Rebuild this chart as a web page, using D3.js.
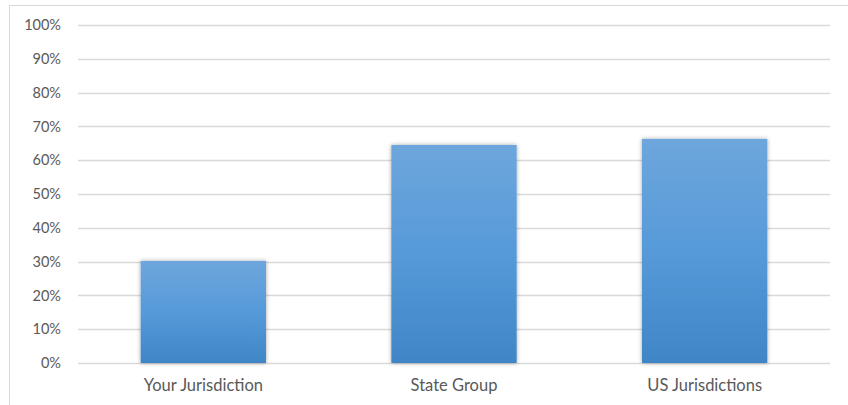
<!DOCTYPE html>
<html>
<head>
<meta charset="utf-8">
<script src="https://cdn.jsdelivr.net/npm/d3@7"></script>
<style>
  body { margin: 0; background: #fff; }
  text { font-family: Lato, "Open Sans", sans-serif; fill: #595959; }
</style>
</head>
<body>
<div id="chart"></div>
<script>
'use strict';

// data
var categories = ["Your Jurisdiction", "State Group", "US Jurisdictions"];
var values = [30.2, 64.5, 66.3];
var tickValues = [0, 10, 20, 30, 40, 50, 60, 70, 80, 90, 100];

var width = 848, height = 405;
var margin = {left: 78, right: 18, top: 25, bottom: 42};

var svg = d3.select("#chart").append("svg")
    .attr("width", width)
    .attr("height", height);

// gradient + shadow for bars
var defs = svg.append("defs");
var grad = defs.append("linearGradient")
    .attr("id", "barGrad")
    .attr("x1", 0).attr("y1", 0).attr("x2", 0).attr("y2", 1);
grad.append("stop").attr("offset", "0%").attr("stop-color", "#6ea6dc");
grad.append("stop").attr("offset", "50%").attr("stop-color", "#569ad9");
grad.append("stop").attr("offset", "100%").attr("stop-color", "#3f86c6");

var shadow = defs.append("filter").attr("id", "shadow")
    .attr("x", "-20%").attr("y", "-20%").attr("width", "140%").attr("height", "140%");
shadow.append("feDropShadow")
    .attr("dx", 0).attr("dy", 0).attr("stdDeviation", 2)
    .attr("flood-color", "#000").attr("flood-opacity", 0.35);

// outer frame (top + left only visible)
svg.append("path")
    .attr("d", "M9.5," + height + "V5.5H" + width)
    .attr("fill", "none")
    .attr("stroke", "#d9d9d9")
    .attr("stroke-width", 1);

var x = d3.scaleBand()
    .domain(categories)
    .range([margin.left, width - margin.right])
    .paddingInner(0.5)
    .paddingOuter(0.25);

var y = d3.scaleLinear()
    .domain([0, 100])
    .range([height - margin.bottom, margin.top]);

// gridlines
svg.append("g")
    .selectAll("line")
    .data(tickValues)
    .enter().append("line")
    .attr("x1", margin.left)
    .attr("x2", width - margin.right)
    .attr("y1", function(d) { return Math.round(y(d)) + 0.5; })
    .attr("y2", function(d) { return Math.round(y(d)) + 0.5; })
    .attr("stroke", "#d9d9d9")
    .attr("stroke-width", 1.3);

// y axis labels
var yAxis = d3.axisLeft(y)
    .tickValues(tickValues)
    .tickSize(0)
    .tickPadding(17)
    .tickFormat(function(d) { return d + "%"; });

svg.append("g")
    .attr("transform", "translate(" + margin.left + ",0)")
    .call(yAxis)
    .call(function(g) { g.select(".domain").remove(); })
    .selectAll("text")
    .style("font-family", "Lato, 'Open Sans', sans-serif")
    .style("font-size", "14.5px")
    .attr("fill", "#595959");

// bars
svg.append("g")
    .selectAll("rect")
    .data(values)
    .enter().append("rect")
    .attr("x", function(d, i) { return x(categories[i]); })
    .attr("width", x.bandwidth())
    .attr("y", function(d) { return y(d); })
    .attr("height", function(d) { return y(0) - y(d); })
    .attr("fill", "url(#barGrad)")
    .attr("filter", "url(#shadow)");

// x axis labels
var xAxis = d3.axisBottom(x).tickSize(0).tickPadding(16);
svg.append("g")
    .attr("transform", "translate(0," + y(0) + ")")
    .call(xAxis)
    .call(function(g) { g.select(".domain").remove(); })
    .selectAll("text")
    .style("font-family", "Lato, 'Open Sans', sans-serif")
    .style("font-size", "16.5px")
    .attr("fill", "#595959");
</script>
</body>
</html>
